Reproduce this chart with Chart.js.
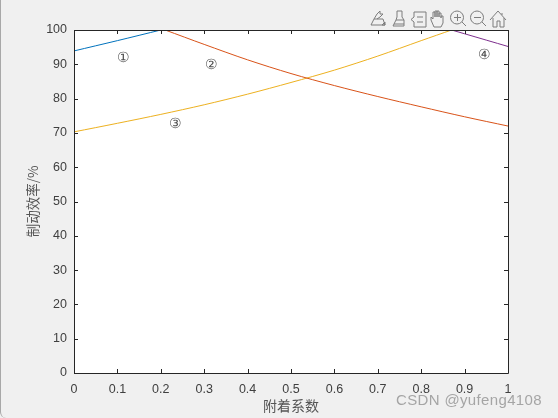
<!DOCTYPE html>
<html>
<head>
<meta charset="utf-8">
<script src="https://cdn.jsdelivr.net/npm/chart.js@4"></script>
<style>
html, body { margin: 0; padding: 0; background: #f0f0f0; overflow: hidden; }
#wrap { position: relative; width: 558px; height: 418px; }
#wrap::after { content: ''; position: absolute; left: 0; top: 0; width: 100%; height: 100%; box-sizing: border-box;
  border-left: 1px solid #a8a8a8; border-bottom-left-radius: 6px; pointer-events: none; }
#watermark { position: absolute; left: 396px; top: 391px; font: 15px "Liberation Sans", sans-serif; letter-spacing: 0.35px; color: rgba(90,90,90,0.5); }
#tools { position: absolute; left: 0; top: 0; }
</style>
</head>
<body>
<div id="wrap">
  <canvas id="chart" width="558" height="418"></canvas>
  <svg id="tools" width="558" height="40" fill="none" stroke="#7c7c7c" stroke-width="1">
    <path d="M371 25l3-6h9l2 6zM374 19l3-5 3-3v3h3l-3 3-3 2M382 25l3-3v3z"/>
    <path d="M397 11h5v6l2 3v6h-11l3-6 1-3zM396 20h8M394 24h10" />
    <path d="M414 12h12v15h-12v-5l-3-2.500 3-2.500zM417 17h6M417 22h6"/>
    <path d="M434 27l-3-7v-3l2 2v-7h2v5-6h2v6-6h2v6-4h2v5-2h2v7l-2 4z"/>
    <circle cx="457" cy="17.500" r="6.500"/><path d="M462 22l4 4M454 17.500h7M457.500 14v7"/>
    <circle cx="477" cy="17.500" r="6.500"/><path d="M482 22l4 4M474 17.500h7"/>
    <path d="M490 20l8-9 8 9M493 18v9h4v-6h3v6h4v-9M502 13v2"/>
  </svg>
  <div id="watermark">CSDN @yufeng4108</div>
</div>
<script>
const xLabels = ['0', '0.1', '0.2', '0.3', '0.4', '0.5', '0.6', '0.7', '0.8', '0.9', '1'];
const yTicks = [0, 10, 20, 30, 40, 50, 60, 70, 80, 90, 100];

const curve1X = [0, 0.1, 0.2];
const curve1Y = [93.9, 96.9, 100];
const curve2X = [0.21, 0.3, 0.4, 0.5, 0.6, 0.7, 0.8, 0.9, 1];
const curve2Y = [100, 95.8, 91.3, 87.3, 83.8, 80.6, 77.6, 74.7, 72];
const curve3X = [0, 0.1, 0.2, 0.3, 0.4, 0.5, 0.6, 0.7, 0.8, 0.87];
const curve3Y = [70.3, 72.8, 75.4, 78.2, 81.3, 84.7, 88.3, 92.4, 96.9, 100];
const curve4X = [0.87, 0.9, 1];
const curve4Y = [100, 98.9, 95.2];

const regionNames = ['①', '②', '③', '④'];
const regionX = [0.115, 0.317, 0.235, 0.947];
const regionY = [91.8, 89.8, 72.5, 92.5];

const textColor = '#404040';
const titleColor = '#555555';
const cjkFont = '"Noto Sans CJK SC", sans-serif';

function toPoints(xs, ys) {
    return xs.map((x, i) => ({ x: x, y: ys[i] }));
}

// MATLAB style box with inward ticks, and the circled labels
const axesBox = {
    id: 'axesBox',
    beforeDraw(chart) {
        const a = chart.chartArea;
        chart.ctx.fillStyle = '#ffffff';
        chart.ctx.fillRect(a.left, a.top, a.width, a.height);
    },
    afterDraw(chart) {
        const c = chart.ctx;
        const a = chart.chartArea;
        const sx = chart.scales.x;
        const sy = chart.scales.y;
        c.save();
        c.strokeStyle = '#262626';
        c.lineWidth = 1;
        c.beginPath();
        c.rect(Math.round(a.left) + 0.5, Math.round(a.top) + 0.5, Math.round(a.width), Math.round(a.height));
        xLabels.forEach((t) => {
            const px = Math.round(sx.getPixelForValue(Number(t))) + 0.5;
            c.moveTo(px, a.bottom);
            c.lineTo(px, a.bottom - 4);
            c.moveTo(px, a.top);
            c.lineTo(px, a.top + 4);
        });
        yTicks.forEach((t) => {
            const py = Math.round(sy.getPixelForValue(t)) + 0.5;
            c.moveTo(a.left, py);
            c.lineTo(a.left + 4, py);
            c.moveTo(a.right, py);
            c.lineTo(a.right - 4, py);
        });
        c.stroke();
        c.fillStyle = '#505050';
        c.font = '14px "DejaVu Serif", serif';
        c.textAlign = 'center';
        c.textBaseline = 'middle';
        regionNames.forEach((name, i) => {
            c.fillText(name, sx.getPixelForValue(regionX[i]), sy.getPixelForValue(regionY[i]));
        });
        c.restore();
    },
};

function lineSet(xs, ys, color) {
    return {
        data: toPoints(xs, ys),
        borderColor: color,
        borderWidth: 1,
        pointRadius: 0,
        tension: 0.3,
        fill: false,
    };
}

new Chart(document.getElementById('chart').getContext('2d'), {
    type: 'line',
    data: {
        datasets: [
            lineSet(curve1X, curve1Y, '#0072bd'),
            lineSet(curve2X, curve2Y, '#d95319'),
            lineSet(curve3X, curve3Y, '#edb120'),
            lineSet(curve4X, curve4Y, '#7e2f8e'),
        ],
    },
    options: {
        responsive: false,
        animation: false,
        layout: { padding: { top: 30, right: 50, left: 0, bottom: 0 } },
        plugins: { legend: { display: false }, tooltip: { enabled: false } },
        scales: {
            x: {
                type: 'linear',
                min: 0,
                max: 1,
                afterBuildTicks(scale) {
                    scale.ticks = xLabels.map((t) => ({ value: Number(t) }));
                },
                afterFit(scale) {
                    scale.height = 45;
                },
                grid: { display: false, drawTicks: false },
                border: { display: false },
                ticks: {
                    color: textColor,
                    font: { family: '"Liberation Sans", sans-serif', size: 12.5 },
                    padding: 9,
                    maxRotation: 0,
                    autoSkip: false,
                    callback: (v) => String(v),
                },
                title: {
                    display: true,
                    text: '附着系数',
                    color: titleColor,
                    font: { family: cjkFont, size: 14 },
                    padding: { top: 0, bottom: 4 },
                },
            },
            y: {
                min: 0,
                max: 100,
                afterBuildTicks(scale) {
                    scale.ticks = yTicks.map((t) => ({ value: t }));
                },
                afterFit(scale) {
                    scale.width = 74;
                },
                grid: { display: false, drawTicks: false },
                border: { display: false },
                ticks: {
                    color: textColor,
                    font: { family: '"Liberation Sans", sans-serif', size: 12.5 },
                    padding: 7,
                },
                title: {
                    display: true,
                    text: '制动效率/%',
                    color: titleColor,
                    font: { family: cjkFont, size: 13.5 },
                    padding: { top: 25, bottom: 0 },
                },
            },
        },
    },
    plugins: [axesBox],
});
</script>
</body>
</html>
